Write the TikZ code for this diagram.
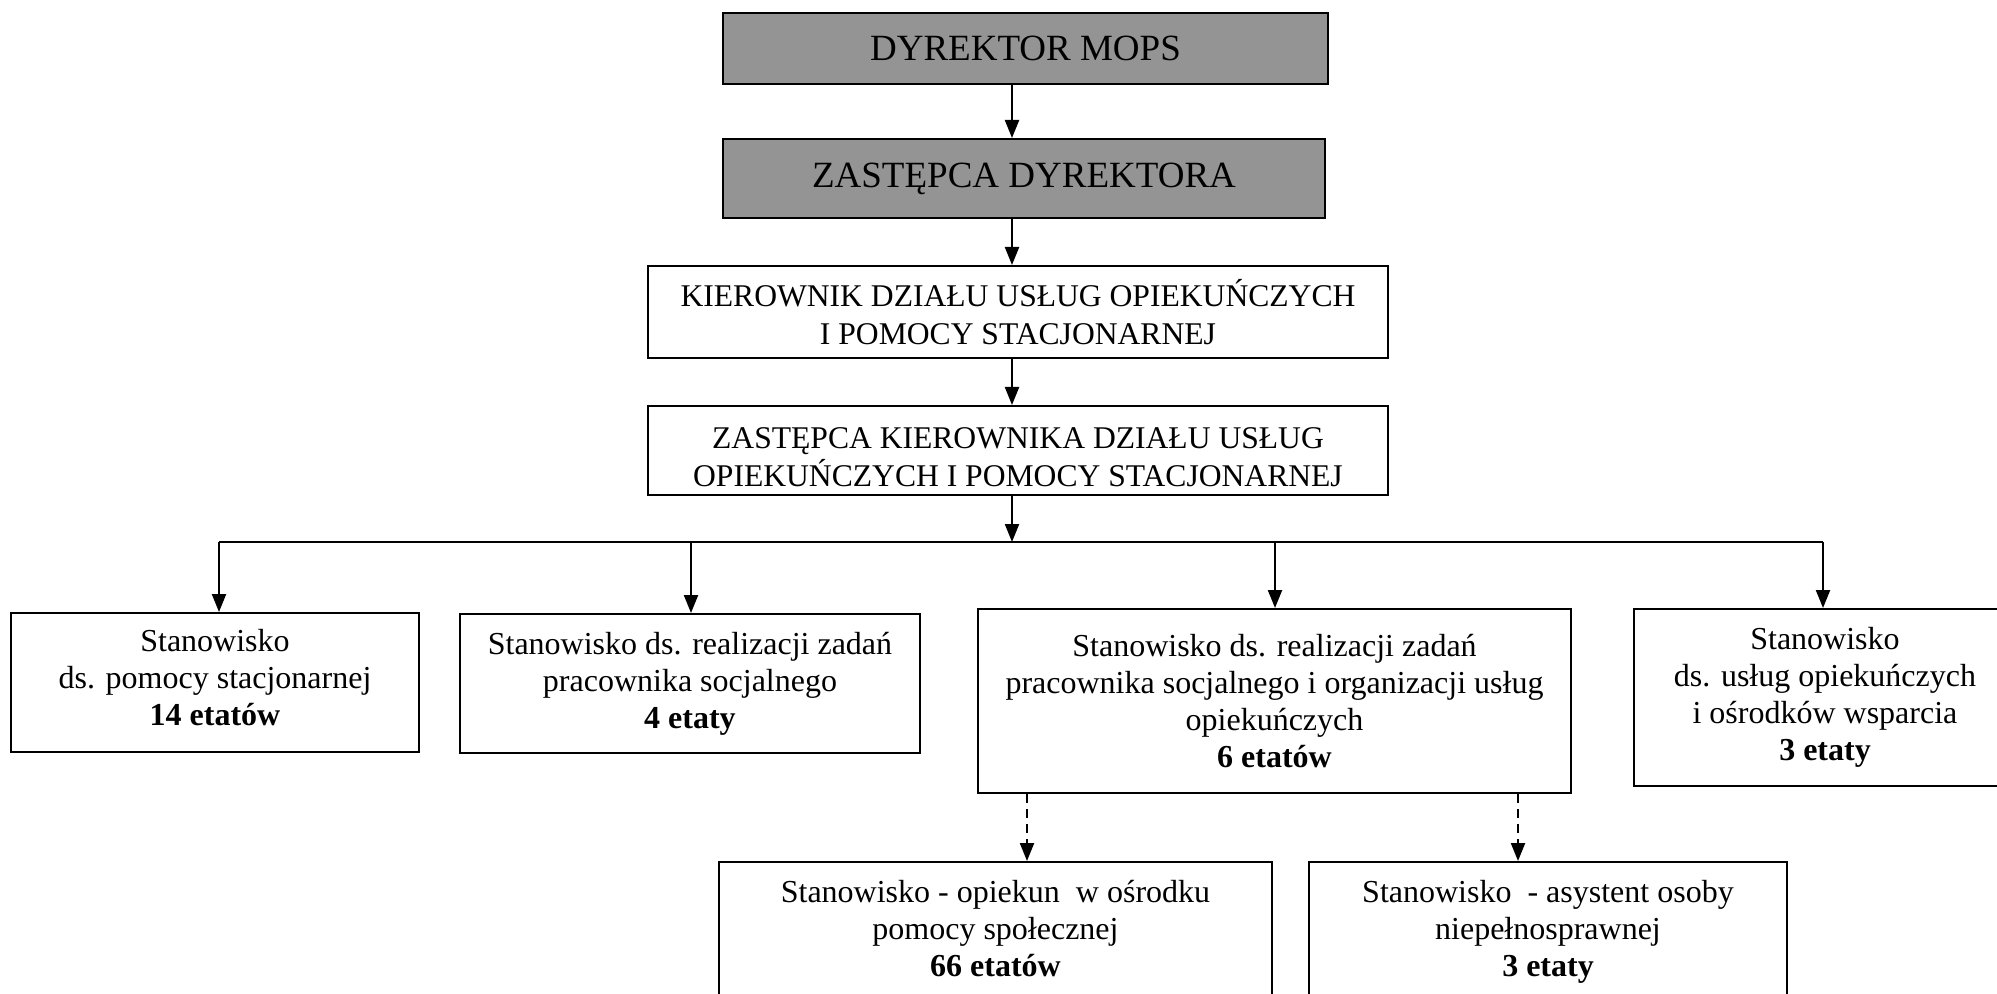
\documentclass[tikz,border=0pt]{standalone}
\usepackage{fontspec}
\setmainfont{Liberation Serif}
\usetikzlibrary{arrows.meta}
\begin{document}
\begin{tikzpicture}[x=0.5pt,y=-0.5pt,
  box/.style={draw=black, line width=1pt, inner sep=0pt, align=center, fill=white},
  topbox/.style={box, fill=black!42, font=\fontsize{18.5pt}{22pt}\selectfont},
  capbox/.style={box, font=\fontsize{15.8pt}{19pt}\selectfont},
  bodybox/.style={box, font=\fontsize{16pt}{18.5pt}\selectfont},
  arr/.style={line width=1.1pt, -{Triangle[length=9pt,width=7pt]}},
  darr/.style={arr, dash pattern=on 4.5pt off 3pt},
  bus/.style={line width=1.3pt}
]
\useasboundingbox (0,0) rectangle (1997,994);
\fill[white] (0,0) rectangle (1997,994);
\clip (0,0) rectangle (1997,994);

% top chain
\node[topbox, minimum width=302.5pt, minimum height=35.5pt] (A) at (1025.5,48.5) {DYREKTOR MOPS};
\node[topbox, minimum width=301pt, minimum height=39.5pt] (B) at (1024,178.5) {ZASTĘPCA DYREKTORA};
\node[capbox, minimum width=370pt, minimum height=46pt] (C) at (1018,312) {KIEROWNIK DZIAŁU USŁUG OPIEKUŃCZYCH\\I POMOCY STACJONARNEJ};
\node[capbox, minimum width=370pt, minimum height=44.5pt] (D) at (1018,450.5) {\rule{0pt}{17pt}ZASTĘPCA KIEROWNIKA DZIAŁU USŁUG\\OPIEKUŃCZYCH I POMOCY STACJONARNEJ};

% second level
\node[bodybox, minimum width=204pt, minimum height=69.5pt] (F1) at (215,682.5) {Stanowisko\\ds. pomocy stacjonarnej\\\textbf{14 etatów}\rule[-5pt]{0pt}{1pt}};
\node[bodybox, minimum width=230pt, minimum height=69.5pt] (F2) at (690,683.5) {Stanowisko ds. realizacji zadań\\pracownika socjalnego\\\textbf{4 etaty}};
\node[bodybox, minimum width=296.5pt, minimum height=92pt] (F3) at (1274.5,701) {Stanowisko ds. realizacji zadań\\pracownika socjalnego i organizacji usług\\opiekuńczych\\\textbf{6 etatów}};
\node[bodybox, minimum width=191pt, minimum height=88.5pt] (F4) at (1825,697.5) {Stanowisko\\ds. usług opiekuńczych\\i ośrodków wsparcia\\\textbf{3 etaty}};

% third level
\node[bodybox, minimum width=276.5pt, minimum height=85pt, anchor=north] (F5) at (995.5,861) {Stanowisko - opiekun~ w ośrodku\\pomocy społecznej\\\textbf{66 etatów}\\[0.5pt]\mbox{}};
\node[bodybox, minimum width=239pt, minimum height=85pt, anchor=north] (F6) at (1548,861) {Stanowisko~ - asystent osoby\\niepełnosprawnej\\\textbf{3 etaty}\\[0.5pt]\mbox{}};

% connectors
\coordinate (tx) at (1012,0);
\coordinate (bus) at (1012,542);
\coordinate (busL) at (219,542);
\coordinate (bus2) at (691,542);
\coordinate (bus3) at (1275,542);
\coordinate (busR) at (1823,542);
\coordinate (d5) at (1027,0);
\coordinate (d6) at (1518,0);

\draw[arr] (A.south -| tx) -- (B.north -| tx);
\draw[arr] (B.south -| tx) -- (C.north -| tx);
\draw[arr] (C.south -| tx) -- (D.north -| tx);
\draw[arr] (D.south -| tx) -- (bus);
\draw[bus] (busL) -- (busR);
\draw[arr] (busL) -- (busL |- F1.north);
\draw[arr] (bus2) -- (bus2 |- F2.north);
\draw[arr] (bus3) -- (bus3 |- F3.north);
\draw[arr] (busR) -- (busR |- F4.north);
\draw[darr] (F3.south -| d5) -- (F5.north -| d5);
\draw[darr] (F3.south -| d6) -- (F6.north -| d6);
\end{tikzpicture}
\end{document}
